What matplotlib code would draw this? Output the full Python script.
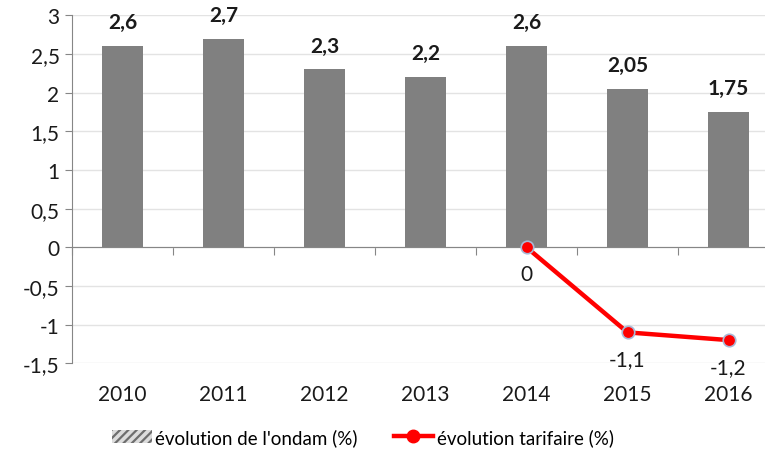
import numpy as np
import matplotlib
matplotlib.use('Agg')
import matplotlib.pyplot as plt
from matplotlib.patches import Patch
from matplotlib.lines import Line2D
from matplotlib.ticker import FuncFormatter, MultipleLocator


years = ['2010', '2011', '2012', '2013', '2014', '2015', '2016']
ondam = [2.6, 2.7, 2.3, 2.2, 2.6, 2.05, 1.75]
tarif_years = ['2014', '2015', '2016']
tarif = [0, -1.1, -1.2]

ondam_label = "évolution de l'ondam (%)"
tarif_label = "évolution tarifaire (%)"


def fr(v):
    # french decimal comma, no trailing zeros
    s = ('%g' % v).replace('.', ',')
    return s


def main():
    plt.rcParams['font.family'] = ['Lato', 'DejaVu Sans']
    plt.rcParams['hatch.linewidth'] = 1.6

    fig = plt.figure(figsize=(7.65, 4.52), dpi=100)
    # plot area runs past the right edge of the picture, like the original
    ax = fig.add_axes([72 / 765, 87.7 / 452, 707 / 765, 348 / 452])

    x = np.arange(len(years))
    ax.bar(x, ondam, width=0.4, color='#808080', zorder=2)

    for xi, v in zip(x, ondam):
        ax.annotate(fr(v), (xi, v), xytext=(0, 10), textcoords='offset points',
                    ha='center', va='bottom', fontsize=15, fontweight='bold',
                    color='#1a1a1a')

    tx = [years.index(y) for y in tarif_years]
    ax.plot(tx, tarif, color='#ff0000', lw=3.2, marker='o', markersize=9,
            markerfacecolor='#ff0000', markeredgecolor='#a9b8d6',
            markeredgewidth=1.2, zorder=4)
    for xi, v in zip(tx, tarif):
        ax.annotate(fr(v), (xi, v), xytext=(0, -12), textcoords='offset points',
                    ha='center', va='top', fontsize=15, color='#1a1a1a')

    ax.set_xlim(-0.5, len(years) - 0.5)
    ax.set_ylim(-1.5, 3)
    ax.yaxis.set_major_locator(MultipleLocator(0.5))
    ax.yaxis.set_major_formatter(FuncFormatter(lambda v, p: fr(round(v, 2))))
    ax.grid(axis='y', color='#e3e3e3', lw=1, zorder=0)
    ax.set_axisbelow(True)

    for s in ['top', 'right']:
        ax.spines[s].set_visible(False)
    ax.spines['left'].set_color('#868686')
    ax.spines['bottom'].set_position(('data', 0))
    ax.spines['bottom'].set_color('#868686')
    ax.spines['bottom'].set_zorder(3)

    ax.set_xticks(np.arange(-0.5, len(years), 1))
    ax.set_xticklabels([])
    ax.tick_params(axis='x', length=6, color='#868686')
    ax.tick_params(axis='y', length=5, color='#868686', labelsize=15,
                   labelcolor='#1a1a1a', pad=4)

    for xi, y in zip(x, years):
        ax.text(xi, -0.06, y, transform=ax.get_xaxis_transform(),
                ha='center', va='top', fontsize=15, color='#1a1a1a')

    handles = [
        Patch(facecolor='#dcdcdc', edgecolor='#6e6e6e', hatch='////', lw=0,
              label=ondam_label),
        Line2D([0], [0], color='#ff0000', lw=3.2, marker='o', markersize=9,
               markerfacecolor='#ff0000', markeredgecolor='#ff0000',
               label=tarif_label),
    ]
    fig.legend(handles=handles, loc='center', bbox_to_anchor=(0.4745, 0.031),
               ncol=2, frameon=False, fontsize=13.5, handlelength=2.1,
               columnspacing=1.9, handletextpad=0.2)

    fig.savefig('out.png', dpi=100)
    plt.close()


if __name__ == "__main__":
    main()
